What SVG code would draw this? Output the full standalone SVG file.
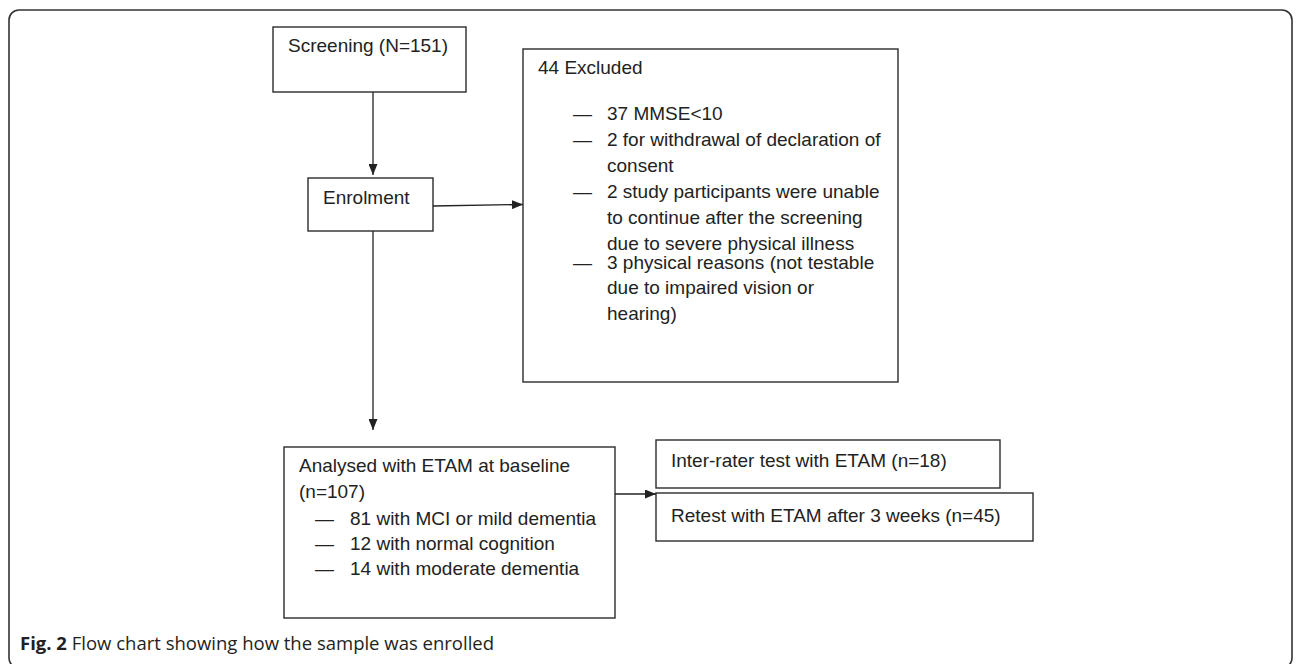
<svg xmlns="http://www.w3.org/2000/svg" width="1296" height="664" viewBox="0 0 1296 664">
<style>
.box{fill:#fff;stroke:#2b2b2b;stroke-width:1.4}
.t{font-family:"Liberation Sans",Arial,sans-serif;font-size:19px;fill:#222}
.cap{font-family:"Open Sans","Noto Sans",sans-serif;font-size:18.5px;fill:#231f20}
.conn{stroke:#222;stroke-width:1.3;fill:none}
</style>
<defs>
<marker id="ah" markerWidth="11" markerHeight="9" refX="11" refY="4.5" orient="auto" markerUnits="userSpaceOnUse">
<path d="M0,0 L11,4.5 L0,9 Z" fill="#222"/>
</marker>
</defs>
<rect x="9" y="10" width="1283" height="658" rx="10" ry="10" fill="#fff" stroke="#333" stroke-width="1.6"/>
<g id="screening">
<rect class="box" x="273" y="27" width="193" height="65"/>
<text class="t" x="288" y="52">Screening (N=151)</text>
</g>
<g id="enrolment">
<rect class="box" x="308" y="178" width="125" height="53"/>
<text class="t" x="323" y="204">Enrolment</text>
</g>
<g id="excluded">
<rect class="box" x="523" y="49" width="375" height="333"/>
<text class="t" x="538" y="74">44 Excluded</text>
<g class="t">
<text x="573" y="120">—</text><text x="607" y="120">37 MMSE&lt;10</text>
<text x="573" y="146">—</text><text x="607" y="146">2 for withdrawal of declaration of</text>
<text x="607" y="172">consent</text>
<text x="573" y="198">—</text><text x="607" y="198">2 study participants were unable</text>
<text x="607" y="224">to continue after the screening</text>
<text x="607" y="250">due to severe physical illness</text>
<text x="573" y="269">—</text><text x="607" y="269">3 physical reasons (not testable</text>
<text x="607" y="294">due to impaired vision or</text>
<text x="607" y="320">hearing)</text>
</g>
</g>
<g id="analysed">
<rect class="box" x="284" y="447" width="331" height="171"/>
<g class="t">
<text x="299" y="472">Analysed with ETAM at baseline</text>
<text x="299" y="498">(n=107)</text>
<text x="315" y="525">—</text><text x="350" y="525">81 with MCI or mild dementia</text>
<text x="315" y="550">—</text><text x="350" y="550">12 with normal cognition</text>
<text x="315" y="575">—</text><text x="350" y="575">14 with moderate dementia</text>
</g>
</g>
<g id="interrater">
<rect class="box" x="656" y="440" width="344" height="48"/>
<text class="t" x="671" y="467">Inter-rater test with ETAM (n=18)</text>
</g>
<g id="retest">
<rect class="box" x="656" y="493" width="377" height="48"/>
<text class="t" x="671" y="522">Retest with ETAM after 3 weeks (n=45)</text>
</g>
<g id="connectors">
<line class="conn" x1="373" y1="92" x2="373" y2="175" marker-end="url(#ah)"/>
<line class="conn" x1="433" y1="206" x2="523" y2="204.5" marker-end="url(#ah)"/>
<line class="conn" x1="373" y1="231" x2="373" y2="430" marker-end="url(#ah)"/>
<line class="conn" x1="615" y1="494" x2="656" y2="494" marker-end="url(#ah)"/>
</g>
<text class="cap" x="20" y="650"><tspan font-weight="bold">Fig. 2</tspan> Flow chart showing how the sample was enrolled</text>
</svg>
